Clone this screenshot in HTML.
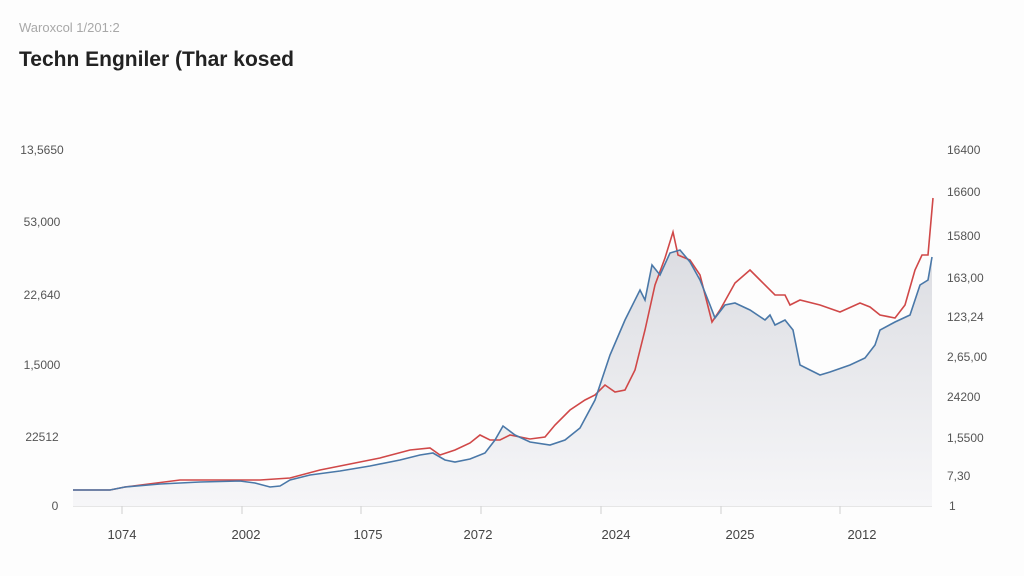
<!DOCTYPE html>
<html><head><meta charset="utf-8"><style>
html,body{margin:0;padding:0;background:#fdfdfd;}
body{width:1024px;height:576px;overflow:hidden;position:relative;font-family:"Liberation Sans",sans-serif;}
</style></head><body>
<svg width="1024" height="576" xmlns="http://www.w3.org/2000/svg" style="position:absolute;left:0;top:0">
<defs><linearGradient id="g" x1="0" y1="0" x2="0" y2="1"><stop offset="0" stop-color="#dcdde2"/><stop offset="1" stop-color="#f6f6f8"/></linearGradient></defs>
<text x="19" y="32" font-size="13" fill="#a8a8a8">Waroxcol 1/201:2</text>
<text x="19" y="66" font-size="21" font-weight="bold" fill="#222">Techn Engniler (Thar kosed</text>
<g font-size="12" fill="#555" text-anchor="middle">
<text x="42" y="154">13,5650</text><text x="42" y="226">53,000</text><text x="42" y="299">22,640</text><text x="42" y="369">1,5000</text><text x="42" y="441">22512</text><text x="55" y="510">0</text>
</g>
<g font-size="12" fill="#555">
<text x="947" y="154">16400</text><text x="947" y="196">16600</text><text x="947" y="240">15800</text><text x="947" y="282">163,00</text><text x="947" y="321">123,24</text><text x="947" y="361">2,65,00</text><text x="947" y="401">24200</text><text x="947" y="442">1,5500</text><text x="947" y="480">7,30</text><text x="949" y="510">1</text>
</g>
<g font-size="13" fill="#444" text-anchor="middle">
<text x="122" y="539">1074</text><text x="246" y="539">2002</text><text x="368" y="539">1075</text><text x="478" y="539">2072</text><text x="616" y="539">2024</text><text x="740" y="539">2025</text><text x="862" y="539">2012</text>
</g>
<line x1="73" y1="506" x2="932" y2="506" stroke="#d0d0d0" stroke-width="1"/>
<g stroke="#d0d0d0"><line x1="122" y1="506" x2="122" y2="514"/><line x1="242" y1="506" x2="242" y2="514"/><line x1="361" y1="506" x2="361" y2="514"/><line x1="481" y1="506" x2="481" y2="514"/><line x1="601" y1="506" x2="601" y2="514"/><line x1="721" y1="506" x2="721" y2="514"/><line x1="840" y1="506" x2="840" y2="514"/></g>
<polygon fill="url(#g)" points="73,490 110,490 125,487 160,484 200,482 240,481 255,483 270,487 280,486 290,480 310,475 340,471 370,466 400,460 420,455 433,453 445,460 455,462 470,459 485,453 495,440 503,426 515,435 530,442 550,445 565,440 580,428 595,400 610,355 625,320 640,290 645,300 652,265 660,275 670,253 680,250 690,262 700,280 710,305 715,318 725,305 735,303 750,310 765,320 770,315 775,325 785,320 793,330 800,365 810,370 820,375 830,372 850,365 865,358 875,345 880,330 895,322 910,315 920,285 928,280 932,257 932,506 73,506"/>
<polyline fill="none" stroke="#d04848" stroke-width="1.6" points="73,490 110,490 125,487 180,480 200,480 230,480 260,480 290,478 320,470 350,464 380,458 410,450 430,448 440,455 455,450 470,443 480,435 490,440 500,440 510,435 530,439 545,437 555,425 570,410 585,400 595,395 605,385 615,392 625,390 635,370 645,330 655,285 665,258 673,232 678,255 690,260 700,275 712,322 720,310 735,283 750,270 760,280 775,295 785,295 790,305 800,300 820,305 840,312 860,303 870,307 880,315 895,318 905,305 915,270 922,255 928,255 933,198"/>
<polyline fill="none" stroke="#4a78a8" stroke-width="1.6" points="73,490 110,490 125,487 160,484 200,482 240,481 255,483 270,487 280,486 290,480 310,475 340,471 370,466 400,460 420,455 433,453 445,460 455,462 470,459 485,453 495,440 503,426 515,435 530,442 550,445 565,440 580,428 595,400 610,355 625,320 640,290 645,300 652,265 660,275 670,253 680,250 690,262 700,280 710,305 715,318 725,305 735,303 750,310 765,320 770,315 775,325 785,320 793,330 800,365 810,370 820,375 830,372 850,365 865,358 875,345 880,330 895,322 910,315 920,285 928,280 932,257"/>
</svg>
</body></html>
